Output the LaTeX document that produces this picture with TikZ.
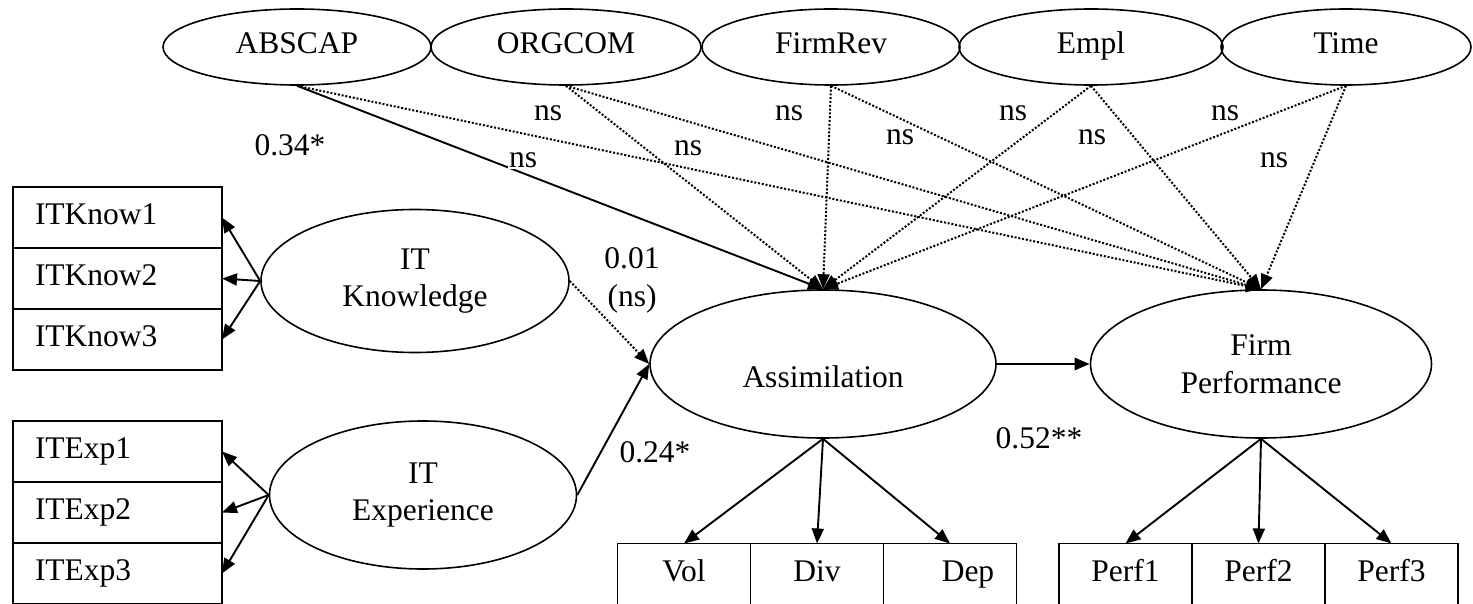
\documentclass[tikz,border=0pt]{standalone}
\usepackage{fontspec}
\setmainfont{Liberation Serif}
\usetikzlibrary{arrows.meta,positioning,shapes.geometric}
\tikzset{
  latent/.style={draw=black,ellipse,line width=1.6pt,inner sep=0pt,align=center},
  control/.style={latent,minimum height=76pt,text height=21pt,text depth=7pt},
  indicator/.style={draw=black,rectangle,line width=1.8pt,inner sep=0pt,outer sep=0pt,
                    minimum width=133pt,minimum height=61pt,text height=21pt,text depth=7pt},
  itemleft/.style={indicator,inner xsep=22pt,text width=165pt,align=left},
  load/.style={-{Triangle[length=15pt,width=12pt]},line width=1.9pt},
  nsload/.style={load,line width=2pt,dash pattern=on 2pt off 1.8pt},
  coef/.style={fill=white,inner sep=1pt},
}

\begin{document}
\begin{tikzpicture}[x=1pt,y=-1pt,font=\fontsize{31.5}{37.8}\selectfont]
  \useasboundingbox (0,0) rectangle (1473,604);

  % control variables
  \node[control,minimum width=268pt] (abscap) at (297,47) {ABSCAP};
  \node[control,minimum width=270pt] (orgcom) at (566,47) {ORGCOM};
  \node[control,minimum width=258pt] (firmrev) at (831,47) {FirmRev};
  \node[control,minimum width=264pt] (empl) at (1091,47) {Empl};
  \node[control,minimum width=250pt] (time) at (1346,47) {Time};

  % latent constructs
  \node[latent,minimum width=308pt,minimum height=143pt] (know) at (415,281) {IT\\Knowledge};
  \node[latent,minimum width=307pt,minimum height=148pt] (exper) at (423,495) {IT\\Experience};
  \node[latent,minimum width=346pt,minimum height=148pt,text height=54pt,text depth=7pt]
    (assim) at (823,364) {Assimilation};
  \node[latent,minimum width=341pt,minimum height=148pt] (perf) at (1261,364) {Firm\\Performance};

  % indicators
  \node[itemleft] (kn1) at (117.5,217.5) {ITKnow1};
  \node[itemleft,below=0pt of kn1] (kn2) {ITKnow2};
  \node[itemleft,below=0pt of kn2] (kn3) {ITKnow3};
  \node[itemleft] (ex1) at (117.5,451.5) {ITExp1};
  \node[itemleft,below=0pt of ex1] (ex2) {ITExp2};
  \node[itemleft,below=0pt of ex2] (ex3) {ITExp3};
  \node[indicator] (vol) at (684,574) {Vol};
  \node[indicator,right=0pt of vol] (div) {Div};
  \node[indicator,right=0pt of div] (dep) {\hspace*{36pt}Dep};
  \node[indicator] (pf1) at (1125.5,574) {Perf1};
  \node[indicator,right=0pt of pf1] (pf2) {Perf2};
  \node[indicator,right=0pt of pf2] (pf3) {Perf3};

  % measurement paths
  \foreach \k in {kn1,kn2,kn3} \draw[load] (know.west) -- (\k.east);
  \foreach \k in {ex1,ex2,ex3} \draw[load] (exper.west) -- (\k.east);
  \foreach \k in {vol,div,dep} \draw[load] (assim.south) -- (\k.north);
  \foreach \k in {pf1,pf2,pf3} \draw[load] (perf.south) -- (\k.north);

  % structural paths
  \draw[nsload] (know.east) -- (assim.west);
  \draw[load] (exper.east) -- (assim.west);
  \draw[load,line width=2.8pt] (assim.east) -- (perf.west);
  \draw[load] (abscap.south) -- (assim.north);
  \draw[nsload] (abscap.south) -- (perf.north);
  \foreach \c in {orgcom,firmrev,empl,time} {
    \draw[nsload] (\c.south) -- (assim.north);
    \draw[nsload] (\c.south) -- (perf.north);
  }

  % coefficients
  \node[coef] (c34) at (290,145) {0.34*};
  \foreach \x/\y [count=\i] in {548/113,523/160,688/148,789/113,900/137,
                                1013/113,1092/137,1225/113,1274/160}
    \node[coef] (ns\i) at (\x,\y) {ns};
  \node[coef,align=center] (c01) at (632,280) {0.01\\(ns)};
  \node[coef] (c24) at (655,452) {0.24*};
  \node[coef] (c52) at (1039,438) {0.52**};
\end{tikzpicture}
\end{document}
